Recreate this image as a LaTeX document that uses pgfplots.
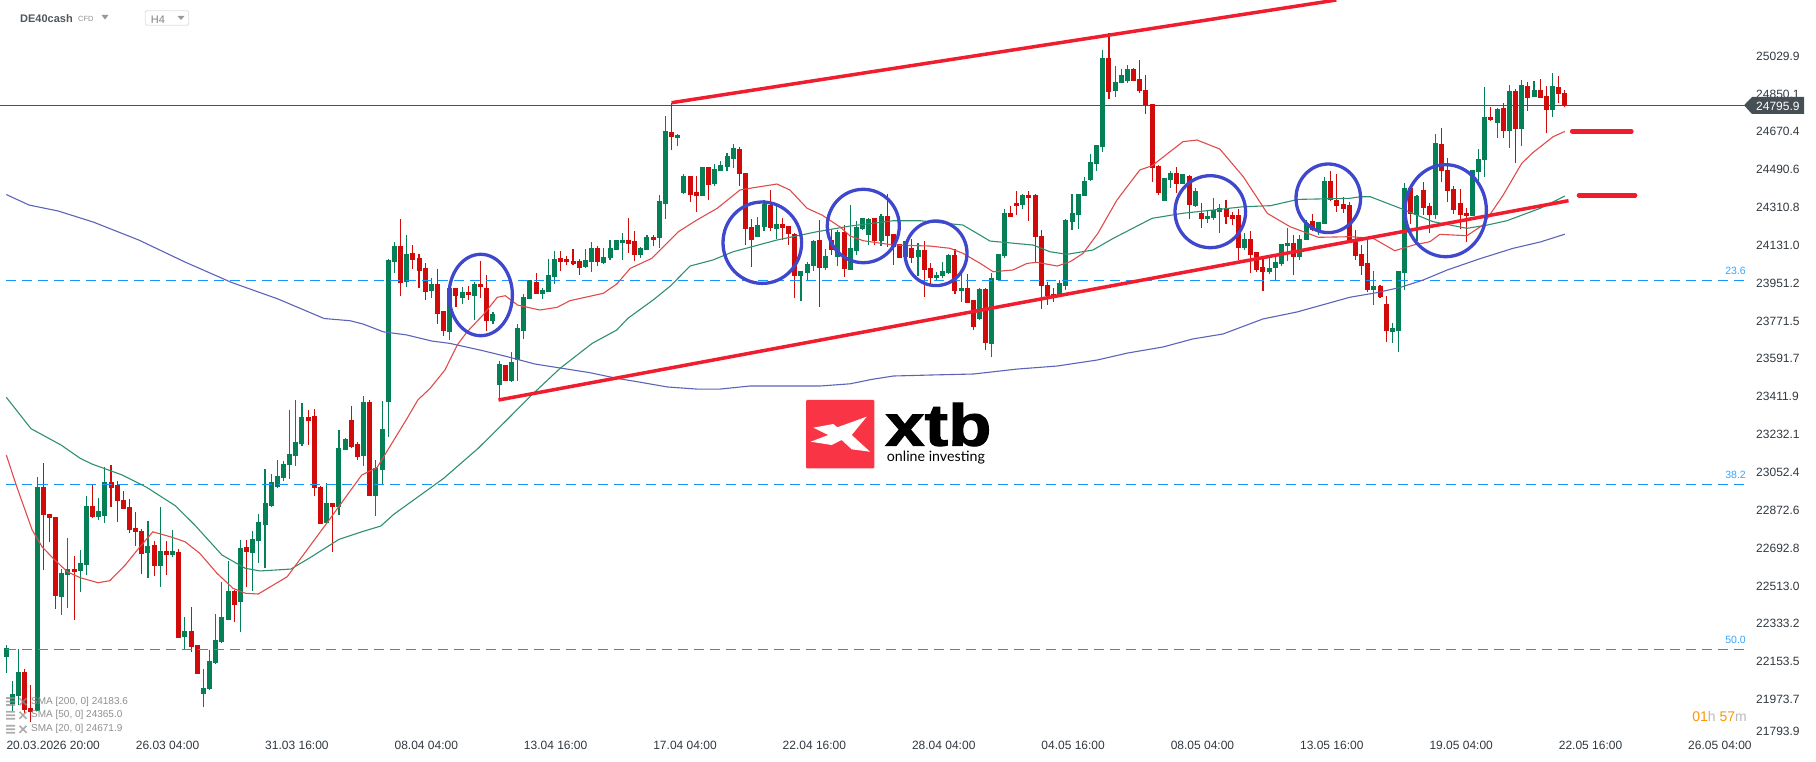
\documentclass[border=0pt]{standalone}
\usepackage{fontspec}
\setmainfont{Liberation Sans}
\newfontfamily\logofont{Lato}
\newfontfamily\xtbfont{Liberation Sans}[BoldFeatures={FakeBold=1.6}]
\usepackage{graphicx}
\usepackage{pgfplots}
\usepackage{pgfplotstable}
\pgfplotsset{compat=1.18}
\definecolor{cg}{HTML}{047F56}
\definecolor{cr}{HTML}{D10A0A}
\definecolor{s200}{HTML}{5C63B8}
\definecolor{s50}{HTML}{2E9070}
\definecolor{s20}{HTML}{E04B4B}
\definecolor{tl}{HTML}{F01D2F}
\definecolor{circ}{HTML}{3F48CC}
\definecolor{fib}{HTML}{1496FF}
\definecolor{pline}{HTML}{4A5358}
\definecolor{txt}{HTML}{30383F}
\definecolor{logo}{HTML}{F93444}
\definecolor{lg}{HTML}{8F8F8F}
\pgfplotstableread{
i h t b l
0 22230.7 22216.4 22176.8 22097.7
1 22062.9 21998 21952 21920.4
2 22211.7 22104 21990 21947
5 23028.7 22981.2 21920.4 21920.4
9 22591.7 22572.7 22461.9 22374.8
10 22739 22591.7 22566.3 22408
12 22683.5 22621.8 22585.3 22485.6
13 22940 22892.5 22612.3 22564.8
15 22928.9 22867.2 22841.8 22826
16 23076.2 23004.9 22846.6 22813.3
23 22821.3 22701 22670.8 22550.5
25 22886.2 22677.2 22609 22509.3
27 22778.5 22677.2 22659.8 22651.8
29 22363.7 22297.2 22271.9 22211.7
32 22118.3 22026.4 22001 21939.4
33 22208.5 22154.7 22024.8 22018.5
34 22379.5 22254.4 22148.3 22143.6
35 22531.5 22363.7 22248 22240.2
36 22631.3 22487.2 22351 22351
38 22731 22691.4 22438 22295.6
40 22773.8 22734.2 22667.7 22490.4
41 22852.9 22814.9 22727.8 22623.4
42 23068.3 22905.2 22803.8 22596.4
43 23044.5 23004.9 22894 22889.3
44 23111 23033.4 22984.3 22979.6
45 23106.3 23092 23027 23011.3
46 23348.5 23139.5 23088.8 23020.8
47 23396 23196.5 23131.6 23082.5
48 23380.2 23315.3 23188.6 23179
52 23001.8 22906.8 22811.8 22810
54 23253.5 23166.4 22889.3 22849.8
55 23215.5 23210.8 23160 23158.5
58 23415 23386.5 23130 23082.5
60 23111 23073 22941.6 22845
61 23391.3 23258.3 23063.5 22997
62 24064 24061 23386.5 23221.9
63 24146.5 24127.5 24051.5 24000.8
65 24179.8 24089.5 23958 23934.3
69 23977 23947 23913.8 23880.5
72 23928 23928 23719 23681
74 23931.2 23909 23880.5 23852
76 23955 23947 23890 23776
79 23814 23804.5 23771.3 23757
80 23581.3 23567 23467.3 23396
82 23624 23576.5 23486.3 23481.5
83 23757 23738 23586 23486.3
84 23899.5 23885.3 23723.8 23685.8
85 23966 23966 23875.8 23875.8
87 23928 23918.5 23899.5 23875.8
88 24065.8 23989.8 23909 23909
89 24103.8 24065.8 23980.3 23947
94 24113.3 24061 24027.8 24023
95 24146.5 24118 24051.5 24004
97 24118 24075.3 24046.8 24042
98 24156 24118 24070.5 24061
99 24156 24156 24108.5 24108.5
100 24189.3 24156 24141.8 24061
103 24122.8 24118 24084.8 24070.5
104 24179.8 24170.3 24108.5 24108.5
106 24369.8 24341.3 24165.5 24118
107 24745 24673.8 24327 24255.8
109 24659.5 24654.8 24640.5 24602.5
110 24469.5 24460 24379.3 24374.5
113 24502.8 24502.8 24365 24365
115 24517 24493.3 24422 24412.5
116 24531.3 24512.3 24483.8 24483.8
117 24569.3 24555 24502.8 24483.8
118 24612 24593 24540.8 24498
122 24265.3 24227.3 24170.3 24170.3
123 24346 24327 24217.8 24198.8
125 24317.5 24232 24208.3 24160.8
129 24008.8 24008.8 23985 23866.3
130 24051.5 24042 23999.3 23966
131 24156 24151.3 24032.5 24008.8
133 24113.3 24080 24023 24013.5
135 24203.5 24194 24075.3 24032.5
137 24322.3 24118 24013.5 24013.5
138 24246.3 24217.8 24103.8 24084.8
139 24260.5 24260.5 24208.3 24203.5
140 24260.5 24255.8 24179.8 24132.3
142 24279.5 24270 24151.3 24127.5
146 24151.3 24151.3 24075.3 24061
148 24141.8 24108.5 24075.3 23985
151 24004 23989.8 23975.5 23966
152 24051.5 24008.8 23985 23975.5
153 24089.5 24084.8 23999.3 23994.5
155 23994.5 23928 23913.8 23861.5
158 23928 23923.3 23780.8 23776
160 23997.7 23975.5 23662 23600.3
161 24089.5 24089.5 23966 23966
162 24303.3 24284.3 24080 24070.5
165 24374.5 24369.8 24322.3 24303.3
171 23966 23951.8 23899.5 23885.3
172 24255.8 24251 23937.5 23918.5
173 24374.5 24284.3 24241.5 24203.5
174 24374.5 24374.5 24274.8 24208.3
175 24455.2 24436.3 24365 24365
176 24564.5 24526.5 24441 24436.3
177 24607.3 24607.3 24517 24483.8
178 25058.5 25020.5 24597.8 24574
180 24982.5 24906.5 24863.8 24835.3
181 24968.3 24939.8 24901.8 24901.8
182 24987.3 24968.3 24911.3 24901.8
188 24450.5 24450.5 24341.3 24341.3
189 24483.8 24474.3 24441 24403
191 24469.5 24469.5 24422 24422
193 24403 24388.8 24317.5 24312.8
195 24298.5 24270 24255.8 24236.8
196 24355.5 24298.5 24260.5 24251
197 24327 24308 24289 24189.3
201 24189.3 24160.8 24118 24108.5
205 24080 24023 24004 23994.5
206 24089.5 24051.5 24023 23966
207 24137 24137 24042 24032.5
208 24213 24141.8 24127.5 24056.2
210 24179.8 24160.8 24075.3 24061
211 24251 24236.8 24156 24156
213 24241.5 24241.5 24198.8 24179.8
214 24455.2 24436.3 24232 24232
222 24008.8 23937.5 23918.5 23847.3
225 23761.8 23738 23719 23666.8
226 24008.8 24008.8 23723.8 23624
227 24426.8 24403 23999.3 23918.5
229 24369.8 24365 24274.8 24151.3
232 24659.5 24616.8 24274.8 24255.8
238 24488.5 24488.5 24270 24270
239 24588.3 24540.8 24479 24436.3
240 24882.8 24740.3 24536 24455.2
242 24783 24778.3 24711.8 24640.5
244 24892.3 24863.8 24673.8 24593
246 24916 24892.3 24683.3 24602.5
248 24911.3 24868.5 24835.3 24835.3
251 24949.3 24887.5 24773.5 24740.3
}\greencandles
\pgfplotstableread{
i h t b l
3 22116.7 22104 21923.5 21907.7
4 22042.3 21931.4 21915.6 21868.1
6 23095.2 22981 22851.3 22588.5
7 22854.5 22854.5 22837 22721.5
8 22841.8 22838.7 22466.6 22403.3
11 22655 22591.7 22580.6 22351
14 22992.3 22892.5 22841.8 22837
17 23087.3 23004.9 22979.6 22889.3
18 23009.7 22992.3 22917.8 22816.5
19 22963.8 22919.4 22879.8 22879.8
20 22924.2 22887.8 22780 22765.8
21 22864 22786.4 22770.6 22704
22 22781.7 22773.8 22666 22569.5
24 22726.3 22705.7 22609 22560
26 22726.3 22677.2 22661.3 22564.8
28 22686.7 22672.4 22267 22267
30 22411.2 22297.2 22224.3 22200.6
31 22232.3 22230.7 22096 22096
37 22493.5 22487.2 22423.9 22343
39 22731 22696.2 22675.6 22509.4
49 23348.5 23315.3 23297.8 23182.3
50 23353.3 23320 22979.6 22940
51 22987.5 22982.8 22808.6 22808.6
53 22906.8 22906.8 22887.8 22675.6
56 23367.5 23301 23172.8 23168
57 23196.5 23187 23125.3 23111
59 23396 23386.5 22941.6 22941.6
64 24255.8 24127.5 23953.3 23891.6
66 24132.3 24094.3 24061 24018.3
67 24089.5 24070.5 24008.8 23929.6
68 24045.2 24021.4 23909 23871
70 24018.3 23947 23804.5 23757
71 23818.8 23818.8 23723.8 23700
73 23928 23928 23890 23839.3
75 23937.5 23909 23894.8 23871
77 24057.8 23947 23932.8 23880.5
78 23989.8 23928 23771.3 23723.8
81 23562.3 23562.3 23486.3 23486.3
86 24000.8 23956.5 23899.5 23899.5
90 24103.8 24070.5 24051.5 24008.8
91 24080 24065.8 24051.5 24037.3
92 24113.3 24056.2 24042 24037.3
93 24065.8 24056.2 24023 23991.3
96 24127.5 24118 24051.5 24032.5
101 24260.5 24156 24137 24094.3
102 24198.8 24151.3 24084.8 24056.2
105 24179.8 24170.3 24156 24127.5
108 24805.2 24669 24645.3 24583.5
111 24460 24460 24369.8 24336.5
112 24460 24384 24365 24289
114 24502.8 24502.8 24417.3 24346
119 24597.8 24588.3 24469.5 24412.5
120 24474.3 24474.3 24208.3 24132.3
121 24255.8 24217.8 24156 24027.8
124 24393.5 24322.3 24213 24198.8
126 24260.5 24232 24213 24156
127 24222.5 24222.5 24184.5 24132.3
128 24189.3 24184.5 23985 23880.5
132 24251 24156 24023 23837.8
134 24208.3 24156 24108.5 24084.8
136 24227.3 24194 24018.3 23980.3
141 24260.5 24260.5 24151.3 24132.3
143 24374.5 24270 24175 24122.8
144 24184.5 24184.5 24122.8 24037.3
145 24137 24137 24070.5 24070.5
147 24160.8 24118 24070.5 24046.8
149 24151.3 24108.5 24013.5 23885.3
150 24046.8 24023 23975.5 23947
154 24113.3 24084.8 23913.8 23899.5
156 23994.5 23928 23856.8 23856.8
157 23871 23871 23742.8 23728.5
159 23928 23923.3 23666.8 23633.5
163 24317.5 24284.3 24265.3 24265.3
164 24388.8 24331.8 24317.5 24274.8
166 24388.8 24369.8 24355.5 24246.3
167 24374.5 24369.8 24170.3 24045.2
168 24203.5 24175 23937.5 23828.3
169 23956.5 23942.3 23890 23847.3
170 23928 23899.5 23885.3 23861.5
179 25139.3 25020.5 24859 24825.8
183 24973 24968.3 24911.3 24911.3
184 25011 24920.8 24863.8 24854.3
185 24939.8 24868.5 24797.3 24754.5
186 24802 24802 24498 24431.5
187 24512.3 24507.5 24379.3 24369.8
190 24502.8 24474.3 24422 24379.3
192 24464.8 24460 24322.3 24255.8
194 24331.8 24284.3 24255.8 24213
198 24346 24308 24265.3 24232
199 24289 24274.8 24255.8 24227.3
200 24303.3 24274.8 24118 24061
202 24198.8 24160.8 24084.8 24000.8
203 24099 24099 24013.5 24004
204 24075.3 24027.8 24004 23913.8
209 24179.8 24141.8 24075.3 23989.8
212 24279.5 24246.3 24203.5 24198.8
215 24483.8 24436.3 24346 24341.3
216 24469.5 24346 24317.5 24289
217 24360.3 24327 24303.3 24284.3
218 24336.5 24322.3 24156 24140.2
219 24203.5 24146.5 24080 24061
220 24132.3 24089.5 24032.5 23989.8
221 24165.5 24046.8 23918.5 23909
223 23942.3 23937.5 23886.9 23879
224 23890 23852 23723.8 23671.5
228 24403 24403 24279.5 24232
230 24431.5 24393.5 24308 24274.8
231 24331.8 24317.5 24274.8 24190.8
233 24688 24612 24483.8 24431.5
234 24545.5 24488.5 24388.8 24336.5
235 24412.5 24398.3 24298.5 24279.5
236 24398.3 24331.8 24274.8 24208.3
237 24308 24284.3 24270 24146.5
241 24787.8 24740.3 24726 24721.3
243 24806.8 24783 24673.8 24640.5
245 24873.3 24863.8 24683.3 24521.8
247 24906.5 24887.5 24830.5 24768.8
249 24920.8 24868.5 24830.5 24830.5
250 24887.5 24840 24773.5 24664.3
252 24935 24882.8 24849.5 24806.8
253 24868.5 24854.3 24795.9 24787.8
}\redcandles
\begin{document}
\begin{tikzpicture}
\useasboundingbox (0,0) rectangle (1816pt,761pt);
\begin{axis}[
  at={(0,0)}, anchor=south west, scale only axis,
  width=1816pt, height=761pt,
  xmin=-1.023, xmax=293.78, ymin=21681.3, ymax=25296.1,
  scaled ticks=false,
  axis line style={draw=none}, tick style={draw=none}, major tick length=0pt,
  xtick={0,21,42,63,84,105,126,147,168,189,210,231,252,273},
  xticklabels={20.03.2026 20:00,26.03 04:00,31.03 16:00,08.04 04:00,13.04 16:00,17.04 04:00,22.04 16:00,28.04 04:00,04.05 16:00,08.05 04:00,13.05 16:00,19.05 04:00,22.05 16:00,26.05 04:00},
  xticklabel style={anchor=base west, inner sep=0pt, yshift=12pt, font=\fontsize{12pt}{14pt}\selectfont, text=txt},
  ytick pos=right, yticklabel pos=right,
  ytick={25029.9,24850.1,24670.4,24490.6,24310.8,24131.0,23951.2,23771.5,23591.7,23411.9,23232.1,23052.4,22872.6,22692.8,22513.0,22333.2,22153.5,21973.7,21820},
  yticklabels={25029.9,24850.1,24670.4,24490.6,24310.8,24131.0,23951.2,23771.5,23591.7,23411.9,23232.1,23052.4,22872.6,22692.8,22513.0,22333.2,22153.5,21973.7,21793.9},
  yticklabel style={anchor=west, inner sep=0pt, xshift=-60pt, font=\fontsize{12pt}{14pt}\selectfont, text=txt},
]
% price line
\addplot[pline, line width=1.1pt, forget plot] coordinates {(-1.023,24795.9) (282.3,24795.9)};
% candles
\addplot[draw=none, mark=none, forget plot, error bars/.cd, y dir=minus, y explicit, error mark=none, error bar style={draw=cg, solid, line width=1.1pt}] table[x=i, y=h, y error expr=\thisrow{h}-\thisrow{l}] {\greencandles};
\addplot[draw=none, mark=none, forget plot, error bars/.cd, y dir=minus, y explicit, error mark=none, error bar style={draw=cr, solid, line width=1.1pt}] table[x=i, y=h, y error expr=\thisrow{h}-\thisrow{l}] {\redcandles};
\addplot[draw=none, mark=none, forget plot, error bars/.cd, y dir=minus, y explicit, error mark=none, error bar style={draw=cg, solid, line width=5pt}] table[x=i, y=t, y error expr=\thisrow{t}-\thisrow{b}] {\greencandles};
\addplot[draw=none, mark=none, forget plot, error bars/.cd, y dir=minus, y explicit, error mark=none, error bar style={draw=cr, solid, line width=5pt}] table[x=i, y=t, y error expr=\thisrow{t}-\thisrow{b}] {\redcandles};
% Fibonacci levels
\addplot[fib, line width=1.05pt, dash pattern=on 10pt off 6pt, forget plot] coordinates {(0,23963.6) (282.7,23963.6)};
\addplot[fib, line width=1.05pt, dash pattern=on 10pt off 6pt, forget plot] coordinates {(0,22994.6) (282.7,22994.6)};
\addplot[fib, line width=1.05pt, dash pattern=on 10pt off 6pt, forget plot] coordinates {(0,22210.9) (282.7,22210.9)};
% SMA 200
\addplot[s200, line width=1.1pt, forget plot] coordinates {(0,24372)(3.7,24322)(8.4,24294)(14.1,24241.5)(21.5,24156)(29,24051.5)(36.6,23954)(44.1,23876)(51.6,23783)(55.8,23772.7)(57.9,23757)(61.2,23720)(65,23705)(69.1,23676)(72,23665)(77.4,23630)(81.3,23602)(85.8,23567)(94.7,23526)(99.1,23499)(102.4,23483)(107.3,23458)(112.1,23448)(115.9,23448)(120.7,23462.5)(132.1,23462.5)(137,23473)(140.5,23494)(144,23510)(150.4,23515)(157,23519.5)(164.1,23543)(170.6,23557.5)(177.1,23586)(182,23619)(187.8,23648)(192.6,23686)(197.5,23709.5)(204,23781)(209.5,23814)(218.1,23884)(222.5,23906)(226.3,23931)(230,23966)(233.9,24013.5)(239.2,24067)(244.6,24116.5)(249,24146.5)(253,24183.6)};
% SMA 50
\addplot[s50, line width=1.1pt, forget plot] coordinates {(0,23409)(4,23260)(8.9,23182)(12,23119)(13.9,23092)(18.8,23040)(22.8,22981)(27.5,22892.5)(30.6,22802)(35,22660)(38.8,22596.6)(41.2,22584)(46.2,22593)(49.3,22647)(54,22734)(57.7,22770)(60.8,22797.5)(62.9,22853)(71,23024)(76.6,23166.6)(81.4,23305.7)(85,23412)(89.9,23546.6)(95.1,23665)(99.1,23728.5)(100.9,23784)(105,23871)(107.8,23937.5)(111,24032.5)(114.7,24061)(118,24100.4)(125.1,24156)(131.6,24195.4)(137,24222.5)(144,24247.7)(148.3,24247.7)(155.3,24227)(159.7,24151)(166.7,24132)(169.4,24100.4)(172.2,24088)(176.4,24108.5)(179.7,24164)(186,24259)(191,24283)(200.8,24314)(205.2,24319)(209.7,24349)(218.1,24354)(219.8,24361.7)(221.4,24361.7)(226.3,24306.6)(231.6,24243)(237.1,24211.6)(240.4,24227)(243.6,24247.7)(249,24306.6)(253,24365)};
% SMA 20
\addplot[s20, line width=1.1pt, forget plot] coordinates {(0,23134.8)(1.7,22984)(4.2,22778.5)(5.8,22699)(7.6,22644)(9.9,22580)(12,22552)(14.9,22528)(16.8,22537.7)(19.3,22612)(21.7,22699)(23.8,22770)(26.9,22744)(29,22723)(31.4,22668)(34.2,22573)(36.8,22501.6)(38.8,22478)(40.9,22474.5)(45.6,22556.7)(48,22651.7)(52.4,22826)(57.7,23039.7)(60.2,23076)(65,23305.7)(66.8,23396)(68.8,23451.6)(71.2,23538.5)(73.2,23657)(74.8,23720)(77.4,23800)(79.7,23883.8)(81,23891.4)(83,23847)(86.6,23823.5)(89.4,23836)(91.5,23867.7)(96.9,23902.8)(99.1,23947)(101.3,24021.6)(104.8,24069)(109.1,24195.4)(112.1,24251)(115.4,24306.6)(119.1,24393.5)(120.7,24401.6)(125.1,24422)(127.2,24393.5)(130,24306.6)(132.4,24274.8)(135.3,24219)(137,24175)(139.1,24152.7)(144,24132)(149.9,24127.5)(153.2,24116.6)(155.3,24092.8)(158.1,24045)(160.2,24005.4)(163.4,24013.5)(165.7,24045)(167.3,24050)(170.6,24032.5)(172.7,24053)(174.8,24092.8)(177.2,24187.8)(180.3,24346)(184,24488.5)(186,24509)(191,24623)(193.3,24631)(197,24588)(200.8,24456.7)(204.7,24282.8)(208.4,24219)(213,24168.8)(218.1,24171.7)(221.9,24164)(225.4,24105)(228.4,24132)(231.1,24148)(232.7,24183)(237.1,24176.4)(239.7,24227)(243,24369.8)(246,24520)(247.8,24570.7)(251.1,24646.7)(253,24671.9)};
% trend lines
\addplot[tl, line width=3.5pt, forget plot] coordinates {(79.9,23396) (253.6,24342.7)};
\addplot[tl, line width=3.5pt, forget plot] coordinates {(108,24808.2) (215.9,25296)};
\addplot[tl, line width=4.6pt, line cap=round, forget plot] coordinates {(254.2,24672.3) (263.8,24672.3)};
\addplot[tl, line width=4.6pt, line cap=round, forget plot] coordinates {(255.3,24368.3) (264.4,24368.3)};
\end{axis}
\begin{scope}[shift={(0,761pt)}, x=1pt, y=-1pt]
  % circles
  \foreach \cx/\cy/\rx/\ry in {480.7/295/31.7/40.7, 762.3/242.7/39.3/40.7, 863.3/226/36/36.7, 936/253.3/31/32.3, 1210.3/211.7/35.3/36, 1328.3/198.3/32.3/34.3, 1445.7/210.7/40.7/46}
    \draw[circ, line width=3.3pt] (\cx,\cy) ellipse [x radius=\rx pt, y radius=\ry pt];
  % price tag
  \fill[pline!95!black] (1744,105.3) -- (1752,97) -- (1804,97) -- (1804,114) -- (1752,114) -- cycle;
  \node[anchor=west, inner sep=0pt, text=white, font=\fontsize{12pt}{14pt}\selectfont] at (1756,106) {24795.9};
  % fib labels
  \foreach \yy/\lab in {271/23.6, 475/38.2, 640/50.0}
    \node[anchor=east, inner sep=0pt, text=fib!85!white, font=\fontsize{10.5pt}{12pt}\selectfont] at (1746,\yy) {\lab};
  % logo
  \fill[logo, rounded corners=1pt] (806,400) rectangle (874.3,468.3);
  \fill[white] (813.3,427.7) -- (833.3,424) -- (837.3,427.3) -- (866.7,416.7) -- (851.7,435) -- (870,451.7) -- (851.7,449.3) -- (841.7,440) -- (831.7,445) -- (810.7,441.7) -- (828.3,435) -- cycle;
  \node[anchor=base west, inner sep=0pt, font=\fontsize{59pt}{60pt}\selectfont\xtbfont\bfseries] at (885,445.7) {\scalebox{1.2}[1]{xtb}};
  \node[anchor=base west, inner sep=0pt] at (886.7,461.7) {\resizebox{98pt}{!}{\logofont online investing}};
  % header
  \node[anchor=base west, inner sep=0pt, text=txt!85!white, font=\fontsize{11pt}{13pt}\selectfont\bfseries] at (20,23) {DE40cash};
  \node[anchor=base west, inner sep=0pt, text=gray!85, font=\fontsize{7.5pt}{9pt}\selectfont] at (78,22) {CFD};
  \fill[gray!80] (101.5,15) -- (108.5,15) -- (105,19.5) -- cycle;
  \draw[gray!25, line width=0.8pt, rounded corners=1.5pt] (145.3,10.7) rectangle (188.7,25.3);
  \node[anchor=base west, inner sep=0pt, text=gray, font=\fontsize{11pt}{13pt}\selectfont] at (150.7,24) {H4};
  \fill[gray!80] (177.5,16) -- (184.5,16) -- (181,20) -- cycle;
  % indicator legend
  \foreach \yy/\lab in {701.7/{SMA [200, 0] 24183.6}, 715.3/{SMA [50, 0] 24365.0}, 729.3/{SMA [20, 0] 24671.9}} {
    \node[anchor=west, inner sep=0pt, text=lg, font=\fontsize{10pt}{12pt}\selectfont] at (31,\yy) {\lab};
    \fill[lg, opacity=.75] (6,\yy-4.5) rectangle (15,\yy-2.8) (6,\yy-1) rectangle (15,\yy+.7) (6,\yy+2.5) rectangle (15,\yy+4.2);
    \draw[lg, opacity=.75, line width=1.6pt] (19.5,\yy-3.5) -- (26.5,\yy+3.5) (19.5,\yy+3.5) -- (26.5,\yy-3.5);
  }
  % countdown
  \node[anchor=east, inner sep=0pt, font=\fontsize{14pt}{16pt}\selectfont] at (1747,716) {\textcolor{orange!85!yellow}{01}\textcolor{gray!55}{h} \textcolor{orange!85!yellow}{57}\textcolor{gray!55}{m}};
\end{scope}
\end{tikzpicture}
\end{document}
